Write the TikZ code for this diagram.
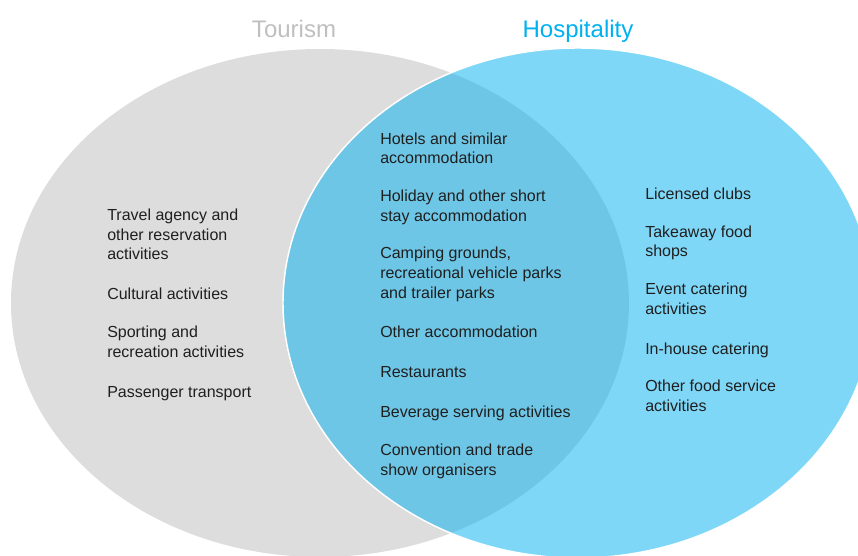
\documentclass[tikz,border=0pt]{standalone}
\usepackage{fontspec}
\setmainfont{Liberation Sans}
\usepackage{xcolor}
\usepackage{tikz}
\usetikzlibrary{positioning}
\definecolor{tourgrey}{HTML}{DDDDDD}
\definecolor{tourtext}{HTML}{BFBFBF}
\definecolor{hospblue}{HTML}{00B0F0}
\definecolor{ink}{HTML}{1F1F1F}
\tikzset{
    setfill/.style={draw=none},
    tourset/.style={setfill,fill=tourgrey},
    hospset/.style={fill=hospblue,fill opacity=0.5,draw=white,line width=1.1pt},
    settitle/.style={inner sep=0pt,anchor=base,font=\fontsize{18}{21}\selectfont},
    item/.style={inner sep=0pt,align=left,text=ink,
      font=\fontsize{12}{14.75}\selectfont,
      execute at begin node=\strut,execute at end node=\strut},
    nextitem/.style={item,below=14.75pt of #1.south west,anchor=north west}
}
\begin{document}
\begin{tikzpicture}[x=0.75pt,y=-0.75pt]
  \useasboundingbox (0,0) rectangle (858,556);
  \begin{scope}
    \clip (0,0) rectangle (858,556);
    \fill[tourset] (320,303) ellipse [x radius=231.75pt,y radius=190.5pt];
    \filldraw[hospset] (578,303) ellipse [x radius=221.25pt,y radius=191.25pt];
  \end{scope}

  % set names
  \node[settitle,text=tourtext] (tourism) at (294,37.5) {Tourism};
  \node[settitle,text=hospblue] (hospitality) at (578,37.5) {Hospitality};

  % tourism only
  \node[item,anchor=north west] (travel) at (107,208.8)
    {Travel agency and\\other reservation\\activities};
  \node[nextitem=travel] (cultural) {Cultural activities};
  \node[nextitem=cultural] (sporting) {Sporting and\\recreation activities};
  \node[nextitem=sporting] (passenger) {Passenger transport};

  % both
  \node[item,anchor=north west] (hotels) at (380,132.2)
    {Hotels and similar\\accommodation};
  \node[nextitem=hotels] (holiday) {Holiday and other short\\stay accommodation};
  \node[nextitem=holiday] (camping)
    {Camping grounds,\\recreational vehicle parks\\and trailer parks};
  \node[nextitem=camping] (otheracc) {Other accommodation};
  \node[nextitem=otheracc] (restaurants) {Restaurants};
  \node[nextitem=restaurants] (beverage) {Beverage serving activities};
  \node[nextitem=beverage] (convention) {Convention and trade\\show organisers};

  % hospitality only
  \node[item,anchor=north west] (licensed) at (645,185.6) {Licensed clubs};
  \node[nextitem=licensed] (takeaway) {Takeaway food\\shops};
  \node[nextitem=takeaway] (event) {Event catering\\activities};
  \node[nextitem=event] (inhouse) {In-house catering};
  \node[nextitem=inhouse] (otherfood) {Other food service\\activities};
\end{tikzpicture}
\end{document}
